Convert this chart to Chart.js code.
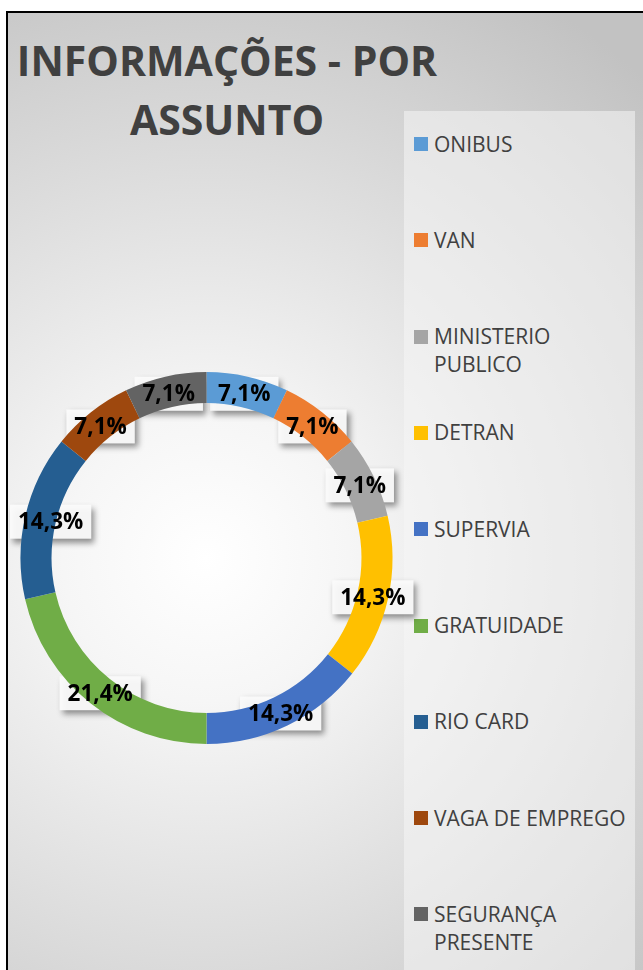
<!DOCTYPE html>
<html>
<head>
<meta charset="utf-8">
<script src="https://cdn.jsdelivr.net/npm/chart.js@4.4.0/dist/chart.umd.min.js"></script>
<style>
  html, body { margin: 0; padding: 0; background: #fff; }
  #frame {
    position: absolute; left: 6px; top: 11px; width: 637px; height: 959px;
    border-left: 2px solid #000; border-top: 2px solid #000; box-sizing: border-box;
    background: radial-gradient(circle 650px at 198px 545px, #ffffff 0%, #f6f6f6 22%, #c2c2c2 100%);
    overflow: hidden;
  }
  #legendBox { position: absolute; left: 404px; top: 111px; width: 231px; height: 859px; background: rgba(245,245,245,0.55); }
  #title {
    position: absolute; left: 0; top: 30.5px; width: 454px; text-align: center;
    font: bold 41px "Open Sans"; line-height: 59px; color: #404040;
    white-space: nowrap;
  }
  .item { position: absolute; left: 414px; width: 225px; height: 60px; }
  .item .sw { position: absolute; left: 0; width: 14px; height: 14px; }
  .item .tx { position: absolute; left: 20px; top: 0; width: 197px; font: 21px "Open Sans"; line-height: 28px; color: #404040; }
  #c { position: absolute; left: 0; top: 0; width: 643px; height: 970px; }
</style>
</head>
<body>
<div id="frame"></div>
<div id="legendBox"></div>
<div id="title">INFORMAÇÕES - POR<br>ASSUNTO</div>
<div id="legend"></div>
<canvas id="c" width="643" height="970"></canvas>
<script>
// data (percent of total)
const labels = ['ONIBUS', 'VAN', 'MINISTERIO PUBLICO', 'DETRAN', 'SUPERVIA', 'GRATUIDADE', 'RIO CARD', 'VAGA DE EMPREGO', 'SEGURANÇA PRESENTE'];
const values = [7.1, 7.1, 7.1, 14.3, 14.3, 21.4, 14.3, 7.1, 7.1];
const colors = ['#5B9BD5', '#ED7D31', '#A5A5A5', '#FFC000', '#4472C4', '#70AD47', '#255E91', '#9E480E', '#636363'];

// html legend, one row every ~96px like the original
const legendEl = document.getElementById('legend');
labels.forEach((lab, i) => {
  const mid = 144 + i * 96.3;
  const item = document.createElement('div');
  item.className = 'item';
  item.style.top = (mid - 14.5) + 'px';
  item.innerHTML = '<div class="sw" style="top:7.5px;background:' + colors[i] + '"></div><div class="tx">' + lab + '</div>';
  legendEl.appendChild(item);
});

const fmt = v => v.toFixed(1).replace('.', ',') + '%';

function labelBoxes(chart) {
  const ctx = chart.ctx;
  const meta = chart.getDatasetMeta(0);
  ctx.font = 'bold 22.5px "Open Sans"';
  return meta.data.map((arc, i) => {
    const p = arc.getProps(['x', 'y', 'startAngle', 'endAngle', 'innerRadius', 'outerRadius'], true);
    const a = (p.startAngle + p.endAngle) / 2;
    const r = (p.innerRadius + p.outerRadius) / 2;
    const text = fmt(values[i]);
    const w = ctx.measureText(text).width + 16;
    const h = 34;
    let x = p.x + r * Math.cos(a);
    const y = p.y + r * Math.sin(a) + 2;
    if (x - w / 2 < 10) x = 10 + w / 2;   // keep inside the frame
    return { x, y, w, h, text };
  });
}

const sliceLabels = {
  id: 'sliceLabels',
  beforeDatasetsDraw(chart) {
    const ctx = chart.ctx;
    ctx.save();
    labelBoxes(chart).forEach(b => {
      ctx.shadowColor = 'rgba(0,0,0,0.45)';
      ctx.shadowBlur = 6;
      ctx.shadowOffsetX = 3;
      ctx.shadowOffsetY = 4;
      ctx.fillStyle = 'rgba(250,250,250,0.95)';
      ctx.fillRect(b.x - b.w / 2, b.y - b.h / 2, b.w, b.h);
    });
    ctx.restore();
  },
  afterDatasetsDraw(chart) {
    const ctx = chart.ctx;
    ctx.save();
    ctx.font = 'bold 22.5px "Open Sans"';
    ctx.fillStyle = '#000';
    ctx.textAlign = 'center';
    ctx.textBaseline = 'middle';
    labelBoxes(chart).forEach(b => ctx.fillText(b.text, b.x, b.y + 1));
    ctx.restore();
  }
};

new Chart(document.getElementById('c'), {
  type: 'doughnut',
  data: {
    labels: labels,
    datasets: [{
      data: values,
      backgroundColor: colors,
      borderWidth: 0
    }]
  },
  options: {
    responsive: false,
    animation: false,
    cutout: '83.3%',
    layout: {
      padding: { left: 20.5, right: 250.5, top: 372, bottom: 226 }
    },
    plugins: {
      legend: { display: false },
      title: { display: false },
      tooltip: { enabled: false }
    }
  },
  plugins: [sliceLabels]
});
</script>
</body>
</html>
